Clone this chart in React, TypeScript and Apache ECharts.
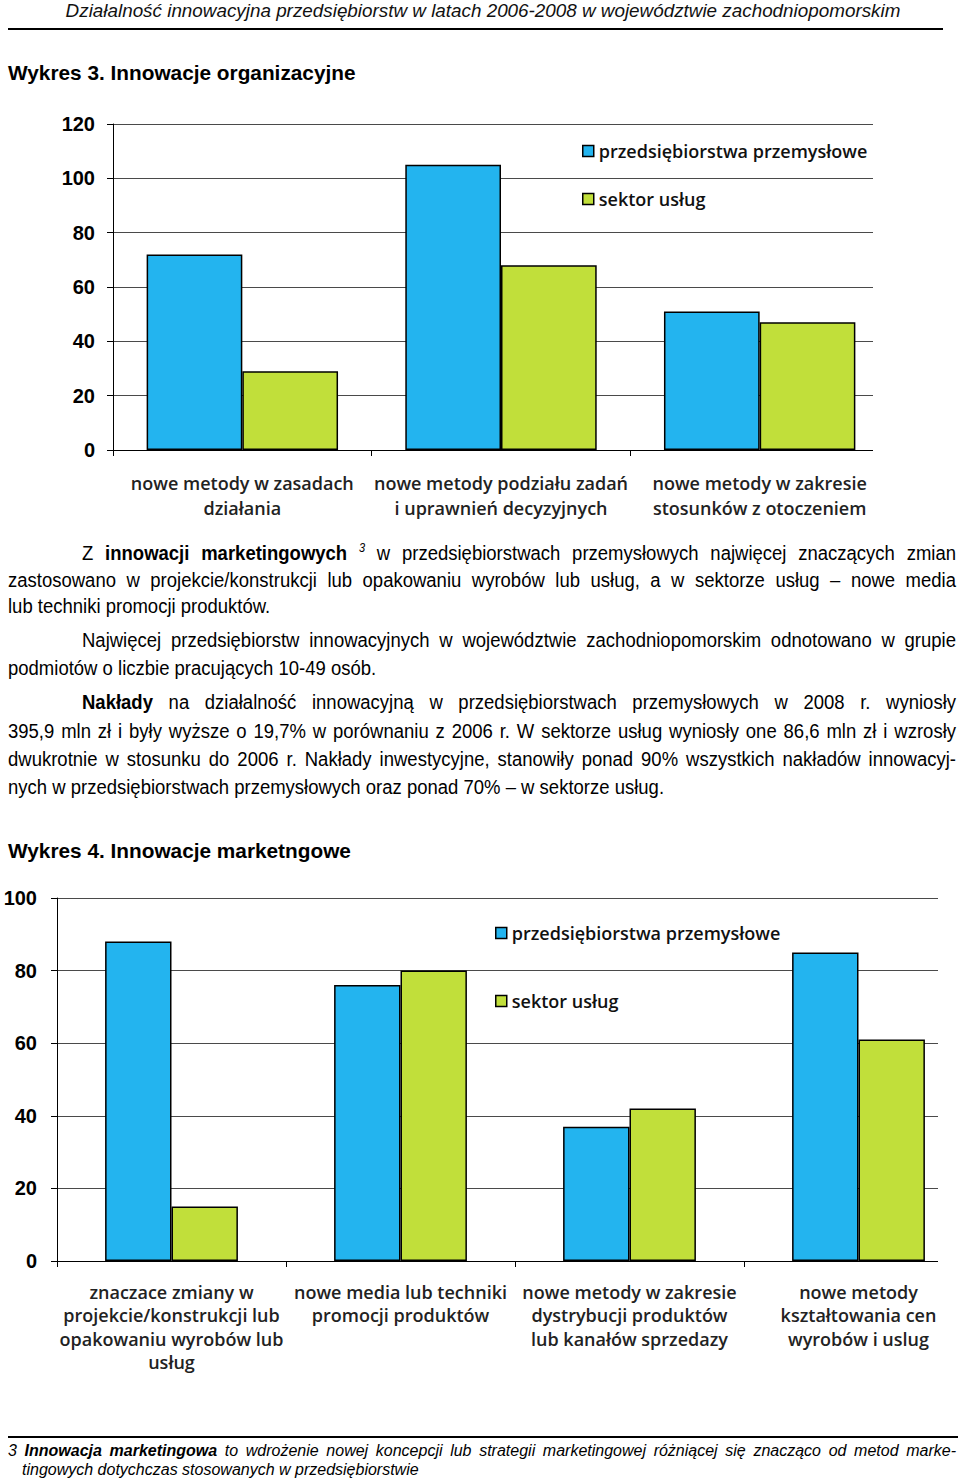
import React, { useEffect, useRef } from "react";
import * as echarts from "echarts";

const SERIES_NAMES = ["przedsiębiorstwa przemysłowe", "sektor usług"];
const BLUE = "#23B4EF";
const GREEN = "#C1DF3A";

const chart1Categories = [
  "nowe metody w zasadach\ndziałania",
  "nowe metody podziału zadań\ni uprawnień decyzyjnych",
  "nowe metody w zakresie\nstosunków z otoczeniem",
];
const chart1Industry = [72, 105, 51];
const chart1Services = [29, 68, 47];
const chart1YMax = 120;
const chart1YStep = 20;

const chart2Categories = [
  "znaczace zmiany w\nprojekcie/konstrukcji lub\nopakowaniu wyrobów lub\nusług",
  "nowe media lub techniki\npromocji produktów",
  "nowe metody w zakresie\ndystrybucji produktów\nlub kanałów sprzedazy",
  "nowe metody\nkształtowania cen\nwyrobów i uslug",
];
const chart2Industry = [88, 76, 37, 85];
const chart2Services = [15, 80, 42, 61];
const chart2YMax = 100;
const chart2YStep = 20;

type ChartCfg = {
  categories: string[];
  industry: number[];
  services: number[];
  yMax: number;
  yStep: number;
  width: number;
  height: number;
  grid: { left: number; right: number; top: number; bottom: number };
  catGap: string;
  yMargin: number;
  xMargin: number;
  xLineHeight: number;
  legendLeft: number;
  legendTop: number;
  legendGap: number;
  clipX: number;
  clipBottom: number;
};

function buildOption(c: ChartCfg): any {
  return {
    animation: false,
    backgroundColor: "transparent",
    grid: { ...c.grid, containLabel: false },
    legend: {
      orient: "vertical",
      left: c.legendLeft,
      top: c.legendTop,
      itemGap: c.legendGap,
      itemWidth: 11,
      itemHeight: 11,
      icon: "rect",
      itemStyle: { borderColor: "#000", borderWidth: 1.5 },
      textStyle: {
        fontFamily: "Open Sans",
        fontWeight: 600,
        fontSize: 18,
        lineHeight: 20,
        color: "#111",
      },
      data: SERIES_NAMES,
    },
    xAxis: {
      type: "category",
      data: c.categories,
      axisLine: { lineStyle: { color: "#000", width: 1 } },
      axisTick: { show: true, length: 6, lineStyle: { color: "#000" } },
      axisLabel: {
        interval: 0,
        margin: c.xMargin,
        fontFamily: "Open Sans",
        fontWeight: 600,
        fontSize: 18,
        lineHeight: c.xLineHeight,
        color: "#222",
      },
    },
    yAxis: {
      type: "value",
      min: 0,
      max: c.yMax,
      interval: c.yStep,
      axisLine: { show: true, lineStyle: { color: "#000", width: 1 } },
      axisTick: { show: true, length: 6, lineStyle: { color: "#000" } },
      axisLabel: {
        margin: c.yMargin,
        fontFamily: "Liberation Sans",
        fontWeight: "bold",
        fontSize: 20,
        color: "#000",
      },
      splitLine: { show: true, lineStyle: { color: "#4a4a4a", width: 1 } },
    },
    series: [
      {
        name: SERIES_NAMES[0],
        type: "bar",
        data: c.industry,
        barGap: "0%",
        barCategoryGap: c.catGap,
        itemStyle: { color: BLUE, borderColor: "#000", borderWidth: 1.5 },
      },
      {
        name: SERIES_NAMES[1],
        type: "bar",
        data: c.services,
        barGap: "0%",
        barCategoryGap: c.catGap,
        itemStyle: { color: GREEN, borderColor: "#000", borderWidth: 1.5 },
      },
    ],
    graphic: [
      {
        type: "rect",
        z: 100,
        shape: { x: c.clipX, y: 0, width: c.width - c.clipX, height: c.clipBottom },
        style: { fill: "#fff" },
      },
    ],
  };
}

function BarChart({ cfg, top }: { cfg: ChartCfg; top: number }) {
  const ref = useRef<HTMLDivElement>(null);
  useEffect(() => {
    if (!ref.current) return;
    const chart = echarts.init(ref.current, undefined, { renderer: "svg" });
    chart.setOption(buildOption(cfg));
    return () => chart.dispose();
  }, [cfg]);
  return (
    <div
      ref={ref}
      style={{ position: "absolute", left: 0, top, width: cfg.width, height: cfg.height }}
    />
  );
}

const chart1Cfg: ChartCfg = {
  categories: chart1Categories,
  industry: chart1Industry,
  services: chart1Services,
  yMax: chart1YMax,
  yStep: chart1YStep,
  width: 1000,
  height: 430,
  grid: { left: 113, right: 111, top: 24, bottom: 80 },
  catGap: "26%",
  yMargin: 18,
  xMargin: 20,
  xLineHeight: 25,
  legendLeft: 577,
  legendTop: 36,
  legendGap: 28,
  clipX: 873,
  clipBottom: 360,
};

const chart2Cfg: ChartCfg = {
  categories: chart2Categories,
  industry: chart2Industry,
  services: chart2Services,
  yMax: chart2YMax,
  yStep: chart2YStep,
  width: 1000,
  height: 500,
  grid: { left: 57, right: 27, top: 18, bottom: 119 },
  catGap: "42%",
  yMargin: 20,
  xMargin: 19,
  xLineHeight: 23.5,
  legendLeft: 490,
  legendTop: 38,
  legendGap: 48,
  clipX: 938,
  clipBottom: 390,
};

const BODY_FS = 18.5;

function Line({
  center,
  lh,
  indent = 0,
  last = false,
  children,
}: {
  center: number;
  lh: number;
  indent?: number;
  last?: boolean;
  children: React.ReactNode;
}) {
  return (
    <div
      style={{
        position: "absolute",
        left: 8 + indent,
        width: 948 - indent,
        top: center - lh / 2,
        height: lh,
        lineHeight: lh + "px",
        fontSize: BODY_FS,
        textAlign: "justify",
        textAlignLast: last ? "left" : "justify",
        whiteSpace: "nowrap",
        transform: "scaleY(1.08)",
      }}
    >
      {children}
    </div>
  );
}

export default function App() {
  return (
    <div
      style={{
        position: "absolute",
        left: 0,
        top: 0,
        width: 960,
        height: 1482,
        overflow: "hidden",
        background: "#fff",
        fontFamily: '"Liberation Sans", Arial, sans-serif',
        color: "#000",
      }}
    >
      <div
        style={{
          position: "absolute",
          left: 8,
          width: 950,
          top: 0,
          height: 22,
          lineHeight: "22px",
          textAlign: "center",
          fontStyle: "italic",
          fontSize: 18.85,
          color: "#111",
        }}
      >
        Działalność innowacyjna przedsiębiorstw w latach 2006-2008 w województwie zachodniopomorskim
      </div>
      <div style={{ position: "absolute", left: 8, top: 28, width: 935, height: 2, background: "#000" }} />

      <div
        style={{
          position: "absolute",
          left: 8,
          top: 62,
          height: 22,
          lineHeight: "22px",
          fontSize: 20.8,
          fontWeight: "bold",
          whiteSpace: "nowrap",
        }}
      >
        Wykres 3. Innowacje organizacyjne
      </div>

      <BarChart cfg={chart1Cfg} top={100} />

      <Line center={554} lh={24}>
        <span style={{ paddingLeft: 74 }} />
        Z <b>innowacji marketingowych</b>{" "}
        <span style={{ position: "relative", top: -8, fontStyle: "italic", fontSize: 11 }}>3</span> w
        przedsiębiorstwach przemysłowych najwięcej znaczących zmian
      </Line>
      <Line center={581} lh={24}>
        zastosowano w projekcie/konstrukcji lub opakowaniu wyrobów lub usług, a w sektorze usług – nowe media
      </Line>
      <Line center={607} lh={24} last>
        lub techniki promocji produktów.
      </Line>

      <Line center={639} lh={25}>
        <span style={{ paddingLeft: 74 }} />
        Najwięcej przedsiębiorstw innowacyjnych w województwie zachodniopomorskim odnotowano w grupie
      </Line>
      <Line center={667} lh={25} last>
        podmiotów o liczbie pracujących 10-49 osób.
      </Line>

      <Line center={701} lh={25}>
        <span style={{ paddingLeft: 74 }} />
        <b>Nakłady</b> na działalność innowacyjną w przedsiębiorstwach przemysłowych w 2008 r. wyniosły
      </Line>
      <Line center={730} lh={25}>
        395,9 mln zł i były wyższe o 19,7% w porównaniu z 2006 r. W sektorze usług wyniosły one 86,6 mln zł i wzrosły
      </Line>
      <Line center={758} lh={25}>
        dwukrotnie w stosunku do 2006 r. Nakłady inwestycyjne, stanowiły ponad 90% wszystkich nakładów innowacyj-
      </Line>
      <Line center={786} lh={25} last>
        nych w przedsiębiorstwach przemysłowych oraz ponad 70% – w sektorze usług.
      </Line>

      <div
        style={{
          position: "absolute",
          left: 8,
          top: 840,
          height: 22,
          lineHeight: "22px",
          fontSize: 20.8,
          fontWeight: "bold",
          whiteSpace: "nowrap",
        }}
      >
        Wykres 4. Innowacje marketngowe
      </div>

      <BarChart cfg={chart2Cfg} top={880} />

      <div style={{ position: "absolute", left: 8, top: 1436, width: 950, height: 2, background: "#000" }} />
      <div
        style={{
          position: "absolute",
          left: 8,
          width: 948,
          top: 1441,
          height: 19,
          lineHeight: "19px",
          fontSize: 16,
          fontStyle: "italic",
          textAlign: "justify",
          textAlignLast: "justify",
          whiteSpace: "nowrap",
        }}
      >
        3 <b>Innowacja marketingowa</b> to wdrożenie nowej koncepcji lub strategii marketingowej różniącej się
        znacząco od metod marke-
      </div>
      <div
        style={{
          position: "absolute",
          left: 22,
          top: 1460,
          height: 19,
          lineHeight: "19px",
          fontSize: 16,
          fontStyle: "italic",
          whiteSpace: "nowrap",
        }}
      >
        tingowych dotychczas stosowanych w przedsiębiorstwie
      </div>
    </div>
  );
}
